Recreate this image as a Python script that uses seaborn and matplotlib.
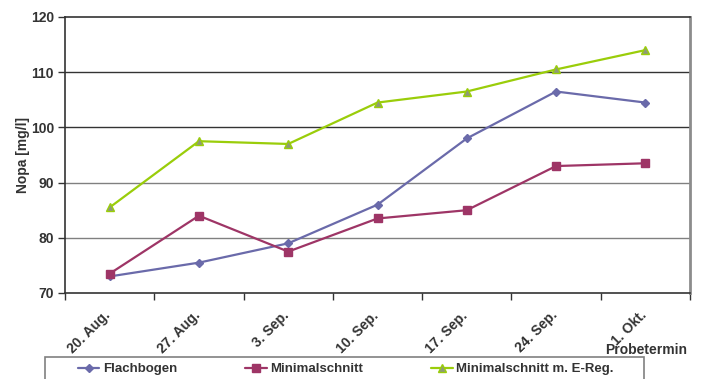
import matplotlib
matplotlib.use("Agg")
import matplotlib.pyplot as plt
import matplotlib.patches as mpatches
import matplotlib.transforms as mtransforms
import seaborn as sns
import pandas as pd
import numpy as np

# Sampling dates and Nopa readings per pruning system
dates = ["20. Aug.", "27. Aug.", "3. Sep.", "10. Sep.", "17. Sep.", "24. Sep.", "1. Okt."]
flachbogen = [73.0, 75.5, 79.0, 86.0, 98.0, 106.5, 104.5]
minimalschnitt = [73.5, 84.0, 77.5, 83.5, 85.0, 93.0, 93.5]
minimalschnitt_ereg = [85.5, 97.5, 97.0, 104.5, 106.5, 110.5, 114.0]
series_names = ["Flachbogen", "Minimalschnitt", "Minimalschnitt m. E-Reg."]
y_ticks = [70, 80, 90, 100, 110, 120]

sns.set_theme(style="white")
plt.rcParams["font.family"] = ["Liberation Sans", "DejaVu Sans"]
plt.rcParams["font.weight"] = "bold"
text_col = "#333333"

rows = []
for name, vals in zip(series_names, [flachbogen, minimalschnitt, minimalschnitt_ereg]):
    for i, v in enumerate(vals):
        rows.append({"pos": i, "Nopa": v, "Serie": name})
df = pd.DataFrame(rows)

colors = {"Flachbogen": "#6A6AAA",
          "Minimalschnitt": "#9E3566",
          "Minimalschnitt m. E-Reg.": "#9ACD0A"}
markers = {"Flachbogen": "D", "Minimalschnitt": "s", "Minimalschnitt m. E-Reg.": "^"}
msizes = {"Flachbogen": 4.5, "Minimalschnitt": 6, "Minimalschnitt m. E-Reg.": 6}
medge = {"Flachbogen": "#6A6AAA", "Minimalschnitt": "#9E3566", "Minimalschnitt m. E-Reg.": "#9ACD0A"}
mface = {"Flachbogen": "#6A6AAA", "Minimalschnitt": "#9E3566", "Minimalschnitt m. E-Reg.": "#8E9A78"}

fig = plt.figure(figsize=(7.02, 3.79), dpi=100)
ax = fig.add_axes([65 / 702, 1 - 293 / 379, 625 / 702, 276 / 379])

for name in series_names:
    sub = df[df["Serie"] == name]
    sns.lineplot(data=sub, x="pos", y="Nopa", ax=ax, color=colors[name],
                 marker=markers[name], markersize=msizes[name],
                 markeredgecolor=medge[name], markerfacecolor=mface[name],
                 markeredgewidth=1, linewidth=1.6, label=name, legend=False)

ax.set_xlim(-0.5, len(dates) - 0.5)
ax.set_ylim(y_ticks[0], y_ticks[-1])

# horizontal gridlines
for yv in y_ticks[1:-1]:
    ax.axhline(yv, color="#333333" if yv >= 100 else "#808080", linewidth=1.0, zorder=0)

# ticks at category boundaries, labels at category centres
ax.set_xticks(np.arange(len(dates) + 1) - 0.5)
ax.set_xticklabels([])
ax.set_xticks(np.arange(len(dates)), minor=True)
ax.set_xticklabels(dates, minor=True, rotation=45, ha="right", va="top",
                   rotation_mode="anchor", fontsize=10, fontweight="bold", color=text_col)
ax.tick_params(axis="x", which="major", direction="out", length=5, width=1, color="#333333", bottom=True)
ax.tick_params(axis="x", which="minor", length=0, pad=11)
shift = mtransforms.ScaledTranslation(-6 / 100, 0, fig.dpi_scale_trans)
for lbl in ax.get_xticklabels(minor=True):
    lbl.set_transform(lbl.get_transform() + shift)
ax.set_yticks(y_ticks)
ax.set_yticklabels([str(v) for v in y_ticks], fontsize=10, fontweight="bold", color=text_col)
ax.tick_params(axis="y", direction="out", length=5, width=1, color="#333333", left=True, pad=3)

for side in ["left", "bottom", "top"]:
    ax.spines[side].set_color("#333333")
    ax.spines[side].set_linewidth(1.2)
ax.spines["right"].set_color("#8C8C8C")
ax.spines["right"].set_linewidth(2)

ax.set_xlabel("")
ax.set_ylabel("Nopa [mg/l]", fontsize=10, fontweight="bold", color=text_col)
ax.yaxis.set_label_coords(-35 / 625, 0.5)

fig.text(687 / 702, 1 - 350 / 379, "Probetermin", ha="right", va="center",
         fontsize=10, fontweight="bold", color=text_col)

# legend box running off the bottom edge
fig.patches.append(mpatches.Rectangle((45 / 702, -10 / 379), 599 / 702, 22 / 379 + 10 / 379,
                                      transform=fig.transFigure, fill=False,
                                      edgecolor="#808080", linewidth=1.2))

handles, labels = ax.get_legend_handles_labels()
leg = fig.legend(handles, labels, loc="center left", ncol=3, mode="expand",
                 bbox_to_anchor=(78 / 702, 1 - 369 / 379, 536 / 702, 0),
                 bbox_transform=fig.transFigure, borderaxespad=0,
                 frameon=False, handlelength=1.6, handletextpad=0.3,
                 prop={"size": 9.5, "weight": "bold"}, borderpad=0)
for t in leg.get_texts():
    t.set_color(text_col)

fig.savefig("out.png", dpi=100)
